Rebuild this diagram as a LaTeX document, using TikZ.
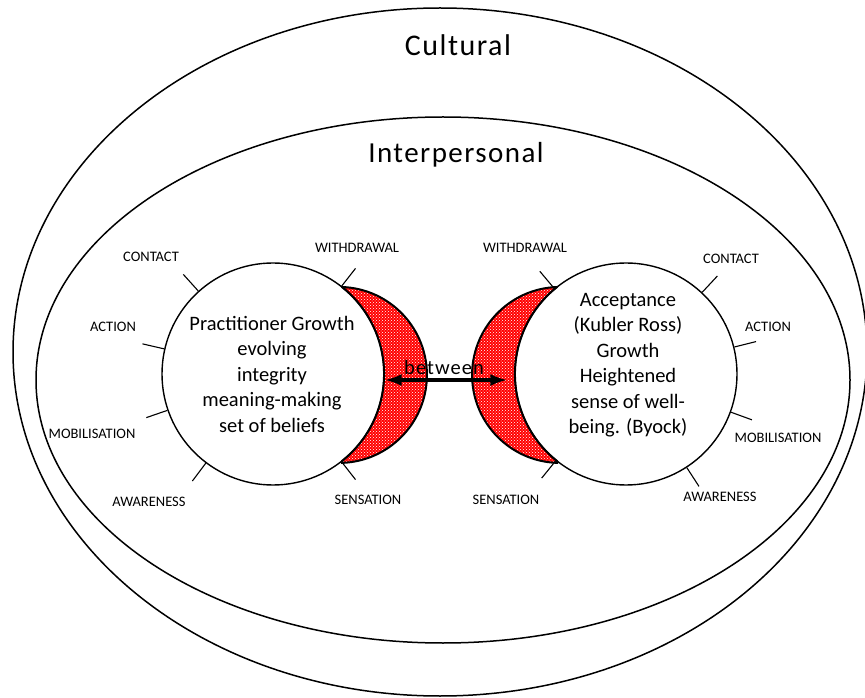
\documentclass[tikz,border=0pt]{standalone}
\usepackage{fontspec}
\setmainfont{Carlito}
\newfontfamily\widefont{Carlito}[LetterSpace=5]
\usetikzlibrary{calc,patterns,arrows.meta}

\tikzset{
  ring/.style={draw, line width=1.5pt},
  selfcircle/.style={circle, draw, line width=1.4pt, minimum size=222pt, inner sep=0pt},
  crescent/.style={preaction={fill=red}, pattern=crosshatch dots, pattern color=white, draw, line width=2pt},
  stagetick/.style={line width=1.1pt},
  stagelabel/.style={font=\fontsize{14.5}{16}\selectfont, inner sep=0pt},
  growthtext/.style={align=center, font=\fontsize{20.5}{25.5}\selectfont, inner sep=0pt},
  fieldtitle/.style={font=\widefont\fontsize{30}{34}\selectfont, inner sep=0pt},
  bigtip/.style={{Latex[length=17pt,width=12pt]}-{Latex[length=17pt,width=12pt]}}
}

\begin{document}
\begin{tikzpicture}[x=1pt, y=1pt]
\useasboundingbox (0,0) rectangle (865,697);

% fields
\draw[ring] (440,345) ellipse [x radius=427, y radius=344];
\draw[ring] (443,317) ellipse [x radius=407, y radius=263];
\node[fieldtitle] (cultural) at (458,652) {Cultural};
\node[fieldtitle, font=\widefont\fontsize{29}{34}\selectfont] (interp) at (456,542) {Interpersonal};

% crescents
\draw[crescent] (342,410) arc[start angle=88, end angle=-88, radius=88] -- (342,236) arc[start angle=-51.6, end angle=51.6, radius=111] -- cycle;
\draw[crescent] (557,410) arc[start angle=92, end angle=268, radius=88] -- (557,236) arc[start angle=231.6, end angle=128.4, radius=111] -- cycle;

% the two cycles
\node[selfcircle] (prac) at (273,323) {};
\node[selfcircle] (acc) at (626,323) {};
\node[growthtext] (practext) at (272,323) {Practitioner Growth\\evolving\\integrity\\meaning-making\\set of beliefs};
\node[growthtext] (acctext) at (628,332) {Acceptance\\(Kubler Ross)\\Growth\\Heightened\\sense of well-\\being. (Byock)};

\foreach \ang/\lx/\ly/\stage [count=\i] in {132/151/440/CONTACT, 167/113/370/ACTION, 199/92/263/MOBILISATION, 233/149/195/AWARENESS, 52/357/449/WITHDRAWAL, 308/368/197/SENSATION}{
  \draw[stagetick] (prac.\ang) -- ($(prac.center)+(\ang:134)$);
  \node[stagelabel] (pl\i) at (\lx,\ly) {\stage};
}
\foreach \ang/\lx/\ly/\stage [count=\i] in {47/731/438/CONTACT, 14/768/370/ACTION, 340/778/259/MOBILISATION, 303/720/200/AWARENESS, 130/525/449/WITHDRAWAL, 231/506/197/SENSATION}{
  \draw[stagetick] (acc.\ang) -- ($(acc.center)+(\ang:134)$);
  \node[stagelabel] (al\i) at (\lx,\ly) {\stage};
}

% between
\draw[bigtip, line width=3.2pt, shorten >=7pt] ([yshift=-6pt]prac.east) -- ([yshift=-6pt]acc.west);
\node[font=\widefont\fontsize{20.5}{24}\selectfont, inner sep=0pt] (between) at (444,330) {between};
\end{tikzpicture}
\end{document}
